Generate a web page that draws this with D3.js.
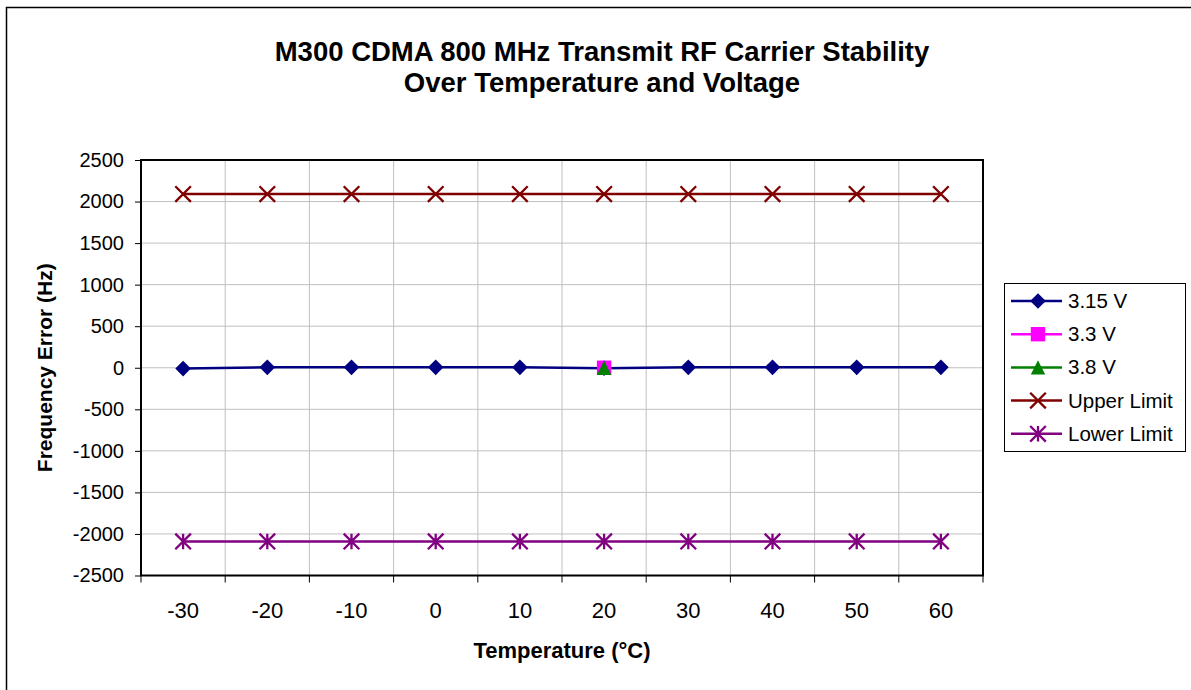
<!DOCTYPE html>
<html>
<head>
<meta charset="utf-8">
<script src="https://cdn.jsdelivr.net/npm/d3@7"></script>
<style>
  html, body { margin: 0; padding: 0; background: #fff; }
  svg { display: block; font-family: "Liberation Sans", Arial, sans-serif; }
</style>
</head>
<body>
<svg id="chart" width="1191" height="690"></svg>
<script>
// Temperature steps (°C) along the category axis
const temperatures = [-30, -20, -10, 0, 10, 20, 30, 40, 50, 60];

// Measured frequency error (Hz) per supply voltage; null = not measured
const v315 = [-10, 5, 5, 5, 5, -5, 5, 5, 5, 5];
const v33  = [null, null, null, null, null, 0, null, null, null, null];
const v38  = [null, null, null, null, null, 0, null, null, null, null];

// Specification limits (Hz)
const upperLimit = [2090, 2090, 2090, 2090, 2090, 2090, 2090, 2090, 2090, 2090];
const lowerLimit = [-2090, -2090, -2090, -2090, -2090, -2090, -2090, -2090, -2090, -2090];

const yTicks = [2500, 2000, 1500, 1000, 500, 0, -500, -1000, -1500, -2000, -2500];

const series = [
  { name: "3.15 V",      values: v315,       color: "#000080", marker: "diamond" },
  { name: "3.3 V",       values: v33,        color: "#FF00FF", marker: "square" },
  { name: "3.8 V",       values: v38,        color: "#008000", marker: "triangle" },
  { name: "Upper Limit", values: upperLimit, color: "#800000", marker: "x" },
  { name: "Lower Limit", values: lowerLimit, color: "#800080", marker: "star" }
];

const svg = d3.select("#chart");

// Outer chart frame
svg.append("rect")
  .attr("x", 6.5).attr("y", 7.5)
  .attr("width", 1200).attr("height", 700)
  .attr("fill", "#fff").attr("stroke", "#000").attr("stroke-width", 1.5);

const plot = { left: 141, top: 160, right: 983, bottom: 575.5 };

const x = d3.scaleBand()
  .domain(temperatures)
  .range([plot.left, plot.right])
  .paddingInner(0).paddingOuter(0);

const y = d3.scaleLinear()
  .domain([-2500, 2500])
  .range([plot.bottom, plot.top]);

const g = svg.append("g");

// Horizontal gridlines
g.append("g").selectAll("line")
  .data(yTicks)
  .join("line")
  .attr("x1", plot.left).attr("x2", plot.right)
  .attr("y1", d => y(d)).attr("y2", d => y(d))
  .attr("stroke", "#c0c0c0").attr("stroke-width", 1);

// Vertical gridlines at category boundaries
const bounds = temperatures.map(t => x(t)).concat([plot.right]);
g.append("g").selectAll("line")
  .data(bounds.slice(1, -1))
  .join("line")
  .attr("x1", d => d).attr("x2", d => d)
  .attr("y1", plot.top).attr("y2", plot.bottom)
  .attr("stroke", "#c0c0c0").attr("stroke-width", 1);

// Y axis
const yAxis = d3.axisLeft(y).tickValues(yTicks).tickSize(6).tickPadding(11).tickFormat(d => String(d));
const yG = svg.append("g").attr("transform", `translate(${plot.left},0)`).call(yAxis);
yG.select(".domain").remove();
yG.selectAll(".tick line").attr("stroke", "#000").attr("stroke-width", 1);
yG.selectAll(".tick text")
  .attr("font-size", 20).attr("fill", "#000")
  .attr("font-family", "'Liberation Sans', Arial, sans-serif");

// X axis: ticks at boundaries, labels centred in each band
const xG = svg.append("g");
xG.selectAll("line")
  .data(bounds)
  .join("line")
  .attr("x1", d => d).attr("x2", d => d)
  .attr("y1", plot.bottom).attr("y2", plot.bottom + 7)
  .attr("stroke", "#000").attr("stroke-width", 1);
xG.selectAll("text")
  .data(temperatures)
  .join("text")
  .attr("x", d => x(d) + x.bandwidth() / 2)
  .attr("y", plot.bottom + 42)
  .attr("text-anchor", "middle")
  .attr("font-size", 22)
  .text(d => String(d));

// Plot area border
svg.append("rect")
  .attr("x", plot.left).attr("y", plot.top)
  .attr("width", plot.right - plot.left).attr("height", plot.bottom - plot.top)
  .attr("fill", "none").attr("stroke", "#000").attr("stroke-width", 2);

// Marker shapes
function drawMarker(sel, type, color) {
  const s = 7.8;
  if (type === "diamond") {
    sel.append("path").attr("d", `M0,${-s}L${s},0L0,${s}L${-s},0Z`).attr("fill", color);
  } else if (type === "square") {
    const q = 7.2;
    sel.append("rect").attr("x", -q).attr("y", -q).attr("width", 2 * q).attr("height", 2 * q).attr("fill", color);
  } else if (type === "triangle") {
    const q = 7.2;
    sel.append("path").attr("d", `M0,${-q}L${q},${q}L${-q},${q}Z`).attr("fill", color);
  } else if (type === "x") {
    sel.append("path").attr("d", `M${-s},${-s}L${s},${s}M${-s},${s}L${s},${-s}`)
      .attr("stroke", color).attr("stroke-width", 2.3).attr("fill", "none");
  } else if (type === "star") {
    sel.append("path").attr("d", `M${-s},${-s}L${s},${s}M${-s},${s}L${s},${-s}M0,${-s}L0,${s}`)
      .attr("stroke", color).attr("stroke-width", 2.3).attr("fill", "none");
  }
}

const line = d3.line()
  .defined(d => d.v !== null)
  .x(d => x(d.t) + x.bandwidth() / 2)
  .y(d => y(d.v));

const seriesG = svg.append("g");
series.forEach(s => {
  const pts = temperatures.map((t, i) => ({ t, v: s.values[i] }));
  seriesG.append("path")
    .datum(pts)
    .attr("d", line)
    .attr("fill", "none")
    .attr("stroke", s.color)
    .attr("stroke-width", 2.5);
  seriesG.append("g").selectAll("g")
    .data(pts.filter(p => p.v !== null))
    .join("g")
    .attr("transform", p => `translate(${x(p.t) + x.bandwidth() / 2},${y(p.v)})`)
    .each(function () { drawMarker(d3.select(this), s.marker, s.color); });
});

// Title
const title = svg.append("text")
  .attr("x", 602).attr("text-anchor", "middle")
  .attr("font-size", 27.5).attr("font-weight", "bold");
title.append("tspan").attr("x", 602).attr("y", 61).text("M300 CDMA 800 MHz Transmit RF Carrier Stability");
title.append("tspan").attr("x", 602).attr("y", 92).text("Over Temperature and Voltage");

// Axis titles
svg.append("text")
  .attr("x", (plot.left + plot.right) / 2).attr("y", 658)
  .attr("text-anchor", "middle").attr("font-size", 22).attr("font-weight", "bold")
  .text("Temperature (°C)");
svg.append("text")
  .attr("transform", `translate(52,${(plot.top + plot.bottom) / 2}) rotate(-90)`)
  .attr("text-anchor", "middle").attr("font-size", 21).attr("font-weight", "bold")
  .text("Frequency Error (Hz)");

// Legend
const legend = svg.append("g");
legend.append("rect")
  .attr("x", 1004.5).attr("y", 283.5).attr("width", 181).attr("height", 168)
  .attr("fill", "#fff").attr("stroke", "#000").attr("stroke-width", 1);
series.forEach((s, i) => {
  const cy = 301 + i * 33.2;
  const item = legend.append("g");
  item.append("line")
    .attr("x1", 1011).attr("x2", 1062).attr("y1", cy).attr("y2", cy)
    .attr("stroke", s.color).attr("stroke-width", 2.5);
  drawMarker(item.append("g").attr("transform", `translate(1038,${cy})`), s.marker, s.color);
  item.append("text")
    .attr("x", 1068).attr("y", cy + 7)
    .attr("font-size", 20.5)
    .text(s.name);
});
</script>
</body>
</html>
